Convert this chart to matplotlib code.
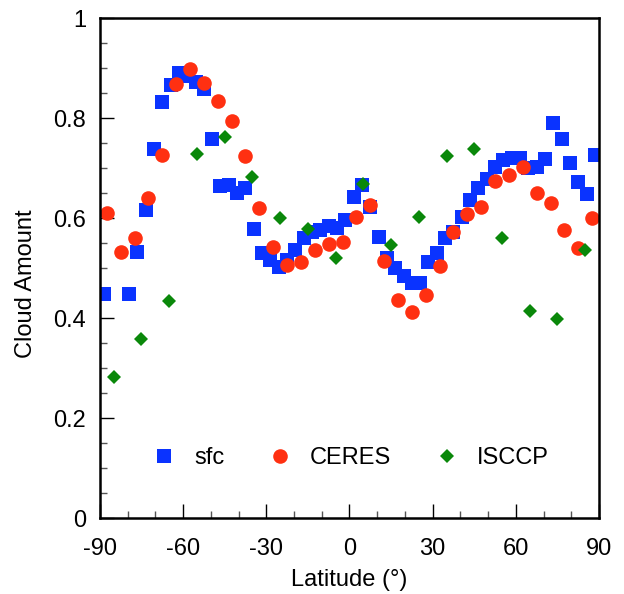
"""Zonal mean cloud amount: surface obs vs CERES vs ISCCP."""
import numpy as np
import matplotlib
matplotlib.use("Agg")
import matplotlib.pyplot as plt
from matplotlib.ticker import MultipleLocator

plt.rcParams["font.family"] = ["Liberation Sans", "DejaVu Sans"]
plt.rcParams["axes.unicode_minus"] = False

# surface observations, 3-degree bins (two polar bins have no data)
SFC_LAT = np.arange(-88.5, 90, 3.0)
SFC = [0.448, np.nan, np.nan, 0.448, 0.533, 0.617, 0.738, 0.832, 0.867, 0.891,
       0.885, 0.873, 0.858, 0.758, 0.665, 0.667, 0.651, 0.660, 0.579, 0.531,
       0.517, 0.503, 0.517, 0.537, 0.560, 0.573, 0.577, 0.585, 0.580, 0.597,
       0.643, 0.667, 0.623, 0.563, 0.520, 0.500, 0.485, 0.470, 0.471, 0.513,
       0.531, 0.560, 0.573, 0.603, 0.637, 0.660, 0.678, 0.703, 0.717, 0.720,
       0.720, 0.700, 0.703, 0.719, 0.790, 0.759, 0.710, 0.673, 0.649, 0.727]

# CERES, 5-degree bins
CERES_LAT = np.arange(-87.5, 90, 5.0)
CERES = [0.611, 0.533, 0.560, 0.641, 0.727, 0.869, 0.898, 0.870, 0.835, 0.795,
         0.725, 0.620, 0.543, 0.507, 0.513, 0.537, 0.548, 0.552, 0.603, 0.627,
         0.515, 0.437, 0.413, 0.446, 0.505, 0.572, 0.609, 0.623, 0.675, 0.687,
         0.703, 0.651, 0.631, 0.577, 0.540, 0.600]

# ISCCP, 10-degree bins
ISCCP_LAT = np.arange(-85, 90, 10.0)
ISCCP = [0.282, 0.359, 0.435, 0.728, 0.763, 0.683, 0.600, 0.579, 0.521,
         0.669, 0.547, 0.603, 0.725, 0.739, 0.560, 0.415, 0.398, 0.537]

BLUE = "#0a33ff"
RED = "#ff3011"
GREEN = "#0a880a"
FS = 17


def main():
    fig = plt.figure(figsize=(6.24, 5.94), dpi=100)
    ax = fig.add_axes([0.160, 0.1274, 0.800, 0.8418])

    ax.plot(SFC_LAT, SFC, "s", color=BLUE, ms=9.5, mew=0, label="sfc")
    ax.plot(CERES_LAT, CERES, "o", color=RED, ms=10.5, mew=0, label="CERES")
    ax.plot(ISCCP_LAT, ISCCP, "D", color=GREEN, ms=7, mew=0, label="ISCCP")

    ax.set_xlim(-90, 90)
    ax.set_ylim(0, 1)
    ax.xaxis.set_major_locator(MultipleLocator(30))
    ax.xaxis.set_minor_locator(MultipleLocator(10))
    ax.yaxis.set_minor_locator(MultipleLocator(0.05))
    ax.set_yticks([0, 0.2, 0.4, 0.6, 0.8, 1.0])
    ax.set_yticklabels(["0", "0.2", "0.4", "0.6", "0.8", "1"])
    ax.tick_params(which="both", direction="in", top=False, right=False,
                   labelsize=FS, width=1.0)
    ax.tick_params(which="major", length=10)
    ax.tick_params(which="minor", length=5, color="#555555")
    ax.tick_params(axis="x", which="major", pad=14)
    ax.tick_params(axis="y", which="major", pad=10)
    for sp in ax.spines.values():
        sp.set_linewidth(1.8)

    ax.set_xlabel("Latitude (°)", fontsize=FS, labelpad=7)
    ax.set_ylabel("Cloud Amount", fontsize=FS)
    ax.yaxis.set_label_coords(-0.125, 0.47)

    ax.legend(loc="center", bbox_to_anchor=(0.5, 0.12), ncol=3,
              frameon=False, fontsize=FS, handletextpad=0.67,
              columnspacing=1.75, handlelength=1.2)

    fig.savefig("out.png", dpi=100)
    plt.close(fig)


if __name__ == "__main__":
    main()
